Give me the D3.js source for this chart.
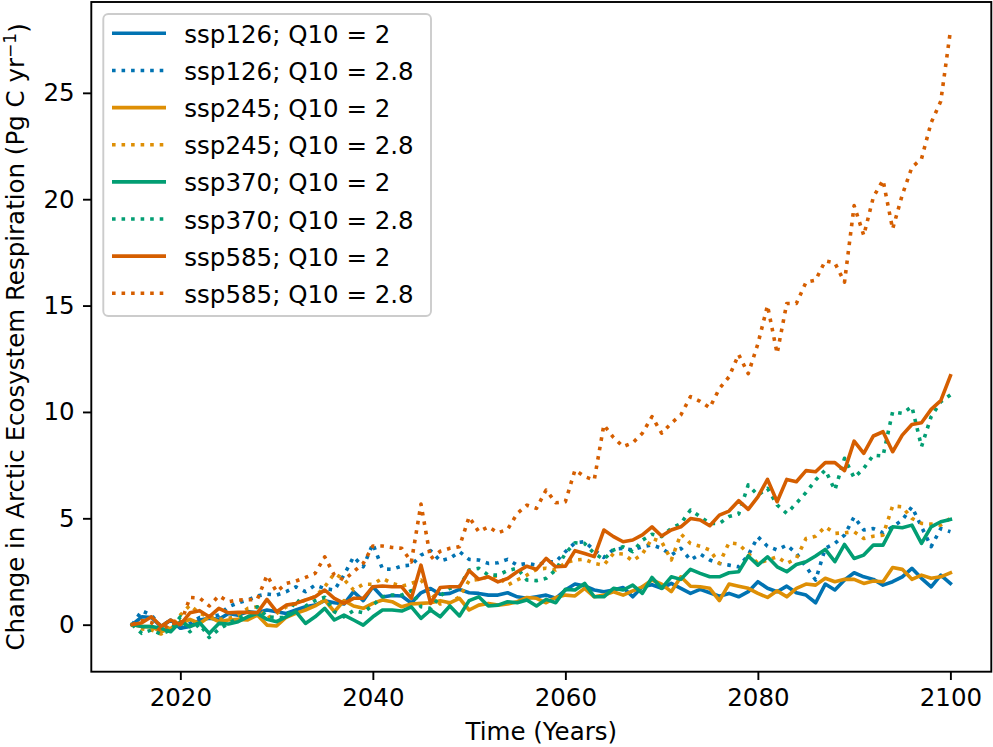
<!DOCTYPE html>
<html>
<head>
<meta charset="utf-8">
<script src="https://cdn.jsdelivr.net/npm/d3@7"></script>
<style>
body { margin: 0; background: #fff; }
svg text { font-family: "DejaVu Sans", sans-serif; fill: #000; }
</style>
</head>
<body>
<div id="chart"></div>
<script>
// annual values 2015..2100, change in respiration (Pg C / yr)
var years = d3.range(2015, 2101);

var ssp126_q2 = [
    0, 0.37, 0.34, -0.09, 0.22, -0.17, -0.09, 0.22, 0.30, 0.25,
    0.53, 0.45, 0.61, 0.56, 0.69, 0.61, 0.53, 0.69, 0.84, 0.92,
    1.13, 1.03, 0.97, 1.55, 1.13, 1.78, 1.30, 1.37, 1.35, 1.02,
    1.50, 1.70, 1.43, 1.47, 1.66, 1.50, 1.47, 1.39, 1.39, 1.50,
    1.31, 1.24, 1.31, 1.39, 1.24, 1.63, 1.91, 1.82, 1.63, 1.55,
    1.63, 1.75, 1.31, 1.78, 1.88, 1.71, 1.94, 1.71, 1.47, 1.66,
    1.50, 1.34, 1.47, 1.31, 1.55, 2.02, 1.71, 1.55, 1.81, 1.50,
    1.39, 1.03, 1.91, 1.63, 2.10, 2.44, 2.25, 2.13, 1.86, 2.02,
    2.25, 2.65, 2.18, 1.78, 2.33, 1.94
];
var ssp126_q28 = [
    0, 0.65, 0.45, -0.09, 0.22, -0.17, 0.06, 0.34, 0.37, 0.45,
    0.84, 1.03, 1.16, 1.35, 1.44, 1.39, 1.55, 1.78, 1.55, 1.86,
    1.70, 1.63, 2.33, 3.19, 2.72, 3.80, 2.62, 2.60, 2.76, 2.80,
    3.27, 3.48, 3.00, 3.12, 3.43, 3.07, 3.04, 2.88, 2.91, 3.07,
    2.80, 2.88, 2.80, 2.96, 2.96, 3.43, 3.85, 3.90, 3.51, 3.16,
    3.54, 3.59, 3.51, 3.67, 3.75, 3.59, 3.27, 3.59, 3.04, 3.32,
    3.04, 2.88, 2.80, 2.72, 3.27, 4.13, 3.69, 3.51, 3.74, 3.35,
    2.72, 2.10, 3.59, 3.82, 4.21, 5.07, 4.45, 4.52, 4.32, 4.60,
    4.92, 5.54, 4.60, 3.67, 4.52, 4.37
];
var ssp245_q2 = [
    0, -0.09, -0.09, -0.33, -0.17, 0.06, 0.25, 0.06, 0.37, 0.14,
    0.22, 0.25, 0.22, 0.45, -0.02, -0.06, 0.35, 0.53, 0.69, 0.88,
    1.16, 0.61, 1.13, 0.88, 0.77, 1.00, 1.16, 1.08, 0.84, 0.97,
    1.00, 1.03, 1.13, 1.03, 1.24, 0.69, 0.92, 1.00, 0.92, 0.97,
    1.08, 1.28, 1.24, 1.03, 1.28, 1.39, 1.35, 1.71, 1.31, 1.39,
    1.55, 1.39, 1.59, 1.78, 2.10, 1.91, 1.55, 2.25, 1.81, 1.78,
    1.71, 1.13, 1.91, 1.81, 1.71, 1.47, 1.28, 1.59, 1.31, 1.71,
    1.91, 1.86, 2.18, 2.02, 2.13, 2.13, 1.94, 2.05, 2.02, 2.69,
    2.60, 2.13, 2.33, 2.18, 2.25, 2.44
];
var ssp245_q28 = [
    0, -0.20, -0.25, -0.44, -0.09, 0.45, 0.92, 0.53, 0.37, 0.25,
    0.30, 0.41, 0.77, 0.84, 0.30, 0.53, 0.84, 0.97, 1.16, 1.31,
    1.78, 2.41, 2.13, 1.63, 1.90, 1.90, 2.18, 1.94, 1.81, 1.94,
    2.10, 1.47, 0.97, 1.03, 1.31, 2.07, 2.13, 2.25, 2.28, 1.86,
    2.10, 2.33, 2.60, 2.65, 2.57, 2.91, 3.04, 3.07, 2.88, 2.80,
    3.35, 3.32, 3.00, 3.32, 4.05, 3.90, 3.04, 4.26, 3.82, 3.69,
    3.51, 2.88, 3.85, 3.79, 3.35, 2.88, 3.04, 3.19, 2.88, 3.11,
    4.05, 4.16, 4.60, 4.29, 4.32, 4.37, 4.05, 4.16, 4.21, 5.58,
    5.54, 5.00, 4.76, 4.73, 4.68, 5.00
];
var ssp370_q2 = [
    0, -0.09, -0.09, -0.17, -0.33, 0.14, -0.09, 0.09, -0.41, 0.06,
    0.03, 0.14, 0.37, 0.53, 0.25, 0.14, 0.37, 0.61, 0.06, 0.37,
    0.77, 0.22, 0.45, 0.22, -0.02, 0.37, 0.69, 0.69, 0.64, 0.84,
    0.30, 0.69, 0.37, 0.88, 0.41, 1.13, 1.31, 0.88, 0.92, 1.08,
    1.03, 1.16, 0.88, 1.19, 1.03, 1.66, 1.63, 1.94, 1.31, 1.31,
    1.71, 1.63, 1.86, 1.47, 2.22, 1.71, 2.25, 2.13, 2.60, 2.41,
    2.25, 2.25, 2.44, 2.49, 3.23, 2.80, 3.19, 2.72, 2.49, 2.83,
    2.96, 3.23, 3.54, 2.96, 3.77, 3.11, 3.27, 3.74, 3.74, 4.60,
    4.56, 4.68, 3.82, 4.60, 4.84, 4.95
];
var ssp370_q28 = [
    0, -0.41, -0.25, -0.44, -0.25, 0.37, -0.33, 0.03, -0.60, -0.22,
    0.06, 0.30, 0.53, 0.84, 0.37, 0.34, 0.33, 1.19, 0.88, 1.13,
    1.29, 0.61, 0.37, 0.66, 0.56, 0.92, 1.31, 1.39, 1.39, 1.60,
    0.84, 0.77, 1.35, 1.71, 1.80, 2.57, 2.65, 2.33, 2.33, 2.54,
    2.65, 2.10, 2.07, 2.18, 2.57, 3.35, 3.85, 3.82, 3.35, 3.07,
    3.51, 3.66, 3.43, 3.97, 4.25, 4.14, 4.53, 4.76, 5.39, 5.08,
    4.76, 4.76, 5.08, 5.20, 6.57, 6.09, 6.41, 5.63, 5.23, 5.71,
    6.21, 6.80, 7.27, 6.33, 7.82, 6.91, 7.35, 7.97, 7.93, 10.01,
    9.93, 10.25, 8.37, 9.78, 10.48, 10.80
];
var ssp585_q2 = [
    0, 0.09, 0.37, -0.07, 0.22, 0.00, 0.56, 0.66, 0.37, 0.77,
    0.56, 0.58, 0.58, 0.56, 1.19, 0.61, 0.92, 1.00, 1.16, 1.31,
    1.63, 1.24, 1.00, 1.24, 1.24, 1.78, 1.82, 1.78, 1.78, 1.24,
    2.80, 1.00, 1.75, 1.78, 1.78, 2.54, 2.13, 2.25, 2.01, 2.17,
    2.49, 2.75, 2.60, 3.12, 2.72, 2.75, 3.48, 3.35, 3.20, 4.45,
    4.14, 3.90, 3.98, 4.22, 4.60, 4.17, 4.45, 4.60, 4.99, 4.92,
    4.65, 5.15, 5.34, 5.83, 5.42, 6.01, 6.83, 5.78, 6.83, 6.72,
    7.24, 7.19, 7.62, 7.62, 7.24, 8.63, 8.05, 8.87, 9.07, 8.13,
    8.91, 9.41, 9.49, 10.12, 10.53, 11.70
];
var ssp585_q28 = [
    0, 0.20, 0.10, -0.30, 0.10, 0.00, 1.28, 1.25, 0.88, 1.36,
    1.08, 1.16, 1.17, 1.19, 2.32, 1.55, 1.94, 2.05, 2.22, 2.41,
    3.19, 2.33, 2.10, 2.49, 2.88, 3.70, 3.70, 3.63, 3.59, 2.95,
    5.67, 3.10, 3.45, 3.59, 3.67, 5.07, 4.37, 4.60, 4.32, 4.48,
    5.23, 5.62, 5.47, 6.33, 5.73, 5.78, 7.27, 6.96, 6.80, 9.39,
    8.80, 8.37, 8.55, 9.00, 9.78, 9.00, 9.47, 9.86, 10.72, 10.50,
    10.20, 11.10, 11.65, 12.70, 11.80, 13.20, 15.00, 12.75, 15.10, 15.10,
    16.10, 16.20, 17.10, 17.00, 16.10, 19.70, 18.30, 20.10, 20.90, 18.60,
    20.20, 21.50, 21.90, 23.60, 24.60, 27.90
];

var seriesNames = [
    "ssp126; Q10 = 2", "ssp126; Q10 = 2.8",
    "ssp245; Q10 = 2", "ssp245; Q10 = 2.8",
    "ssp370; Q10 = 2", "ssp370; Q10 = 2.8",
    "ssp585; Q10 = 2", "ssp585; Q10 = 2.8"
];
var seriesValues = [ssp126_q2, ssp126_q28, ssp245_q2, ssp245_q28,
                    ssp370_q2, ssp370_q28, ssp585_q2, ssp585_q28];
var xTicks = [2020, 2040, 2060, 2080, 2100];
var yTicks = [0, 5, 10, 15, 20, 25];

// styling (seaborn colorblind palette)
var colors = ["#0173b2", "#0173b2", "#de8f05", "#de8f05",
              "#029e73", "#029e73", "#d55e00", "#d55e00"];
var lw = 3.6;
var fontSize = 24.5;

var W = 993, H = 747;
var margin = {top: 2, right: 1.7, bottom: 75.3, left: 91.3};
var width = W - margin.left - margin.right,
    height = H - margin.top - margin.bottom;

var svg = d3.select("#chart")
    .append("svg")
    .attr("width", W)
    .attr("height", H)
    .style("display", "block");

var g = svg.append("g")
    .attr("transform", "translate(" + margin.left + "," + margin.top + ")");

var x = d3.scaleLinear().domain([2010.75, 2104.25]).range([0, width]);
var y = d3.scaleLinear().domain([-2.21, 29.27]).range([height, 0]);

g.append("clipPath").attr("id", "clip")
  .append("rect").attr("width", width).attr("height", height);

var line = d3.line()
    .x(function(d) { return x(d[0]); })
    .y(function(d) { return y(d[1]); });

var plot = g.append("g").attr("clip-path", "url(#clip)");
seriesValues.forEach(function(vals, i) {
    var pts = years.map(function(yr, j) { return [yr, vals[j]]; });
    plot.append("path")
        .datum(pts)
        .attr("d", line)
        .attr("fill", "none")
        .attr("stroke", colors[i])
        .attr("stroke-width", lw)
        .attr("stroke-linejoin", "round")
        .attr("stroke-linecap", i % 2 ? "butt" : "square")
        .attr("stroke-dasharray", i % 2 ? (lw + "," + (lw * 1.65)) : null);
});

// axes
var tickLen = 8.3;
var xAxis = g.append("g")
    .attr("transform", "translate(0," + height + ")")
    .call(d3.axisBottom(x).tickValues(xTicks).tickFormat(d3.format("d"))
          .tickSize(tickLen).tickPadding(8.3));
var yAxis = g.append("g")
    .call(d3.axisLeft(y).tickValues(yTicks).tickFormat(d3.format("d"))
          .tickSize(tickLen).tickPadding(8.3));
[xAxis, yAxis].forEach(function(a) {
    a.select(".domain").remove();
    a.selectAll(".tick line").attr("stroke", "#000").attr("stroke-width", 1.9);
    a.selectAll(".tick text").style("font-size", fontSize + "px")
        .style("font-family", "'DejaVu Sans', sans-serif");
});

// spines
g.append("rect")
    .attr("width", width).attr("height", height)
    .attr("fill", "none").attr("stroke", "#000").attr("stroke-width", 1.9);

// axis labels
svg.append("text")
    .attr("x", margin.left + width / 2)
    .attr("y", 740)
    .attr("text-anchor", "middle")
    .style("font-size", fontSize + "px")
    .text("Time (Years)");

var yl = svg.append("text")
    .attr("transform", "translate(24," + (margin.top + height / 2) + ") rotate(-90)")
    .attr("text-anchor", "middle")
    .style("font-size", fontSize + "px");
yl.append("tspan").text("Change in Arctic Ecosystem Respiration (Pg C yr");
yl.append("tspan").attr("dy", "-0.45em").style("font-size", (fontSize * 0.7) + "px").text("\u22121");
yl.append("tspan").attr("dy", "0.45em").text(")");

// legend
var leg = svg.append("g");
leg.append("rect")
    .attr("x", 103.3).attr("y", 14)
    .attr("width", 327.7).attr("height", 302)
    .attr("rx", 5).attr("ry", 5)
    .attr("fill", "#fff").attr("fill-opacity", 0.8)
    .attr("stroke", "#cccccc").attr("stroke-width", 1.9);
seriesNames.forEach(function(name, i) {
    var cy = 33.3 + i * 37.14;
    leg.append("line")
        .attr("x1", 112).attr("x2", 166)
        .attr("y1", cy).attr("y2", cy)
        .attr("stroke", colors[i])
        .attr("stroke-width", lw)
        .attr("stroke-dasharray", i % 2 ? (lw + "," + (lw * 1.65)) : null);
    leg.append("text")
        .attr("x", 184.3).attr("y", cy + 9.5)
        .style("font-size", fontSize + "px")
        .text(name);
});
</script>
</body>
</html>
